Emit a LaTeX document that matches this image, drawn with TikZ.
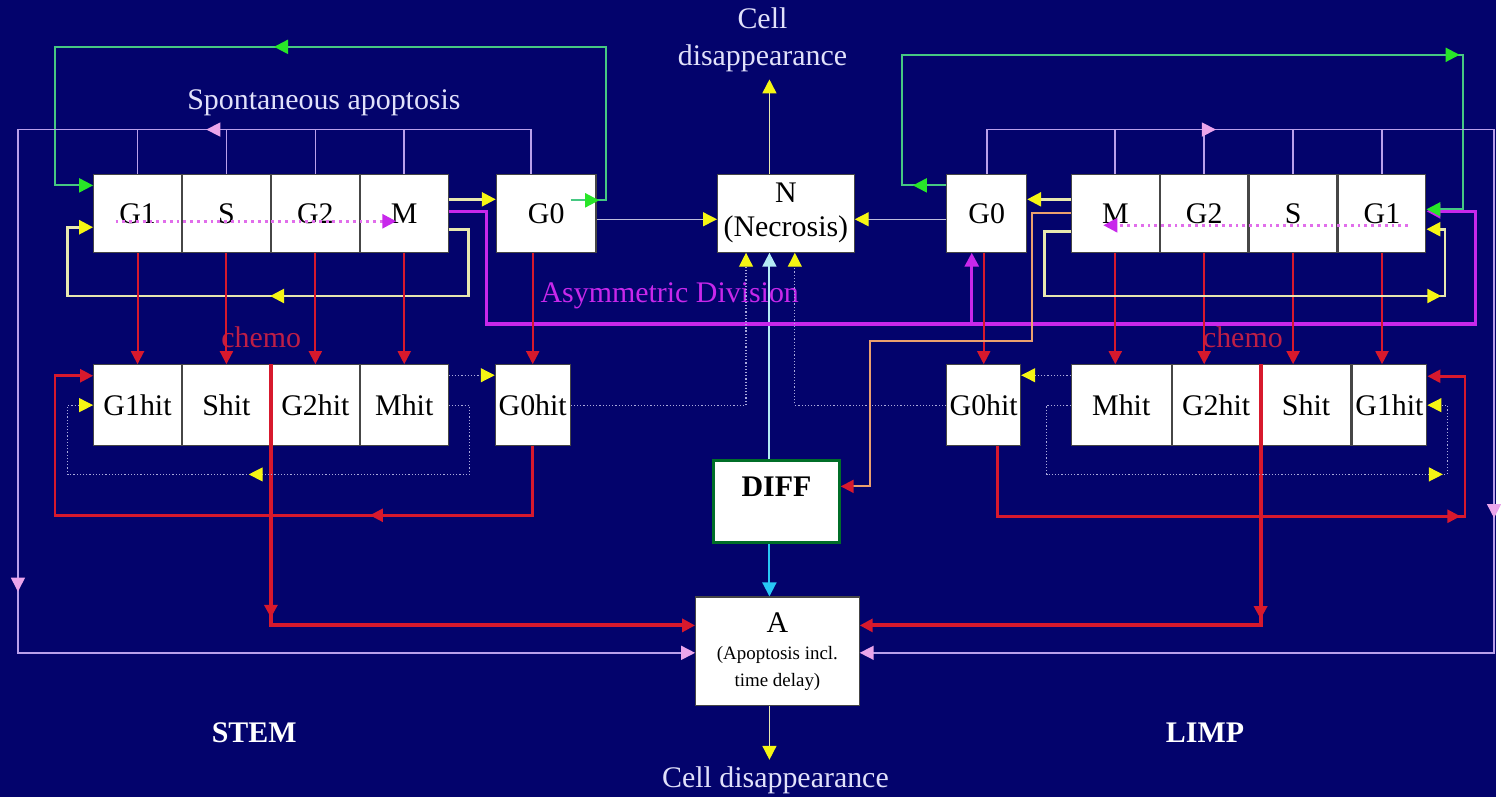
\documentclass[tikz,border=0pt]{standalone}
\usepackage{fontspec}
\setmainfont{Liberation Serif}
\usetikzlibrary{arrows.meta, positioning, decorations.markings}

\definecolor{navy}{RGB}{3,3,108}
\definecolor{boxline}{RGB}{70,70,70}
\definecolor{txtc}{RGB}{225,225,250}
\definecolor{pinkc}{RGB}{185,160,235}
\definecolor{piktip}{RGB}{235,165,235}
\definecolor{grnc}{RGB}{70,200,130}
\definecolor{grntip}{RGB}{40,230,40}
\definecolor{yelc}{RGB}{232,232,175}
\definecolor{yeltip}{RGB}{245,245,20}
\definecolor{redc}{RGB}{215,25,45}
\definecolor{chemoc}{RGB}{190,30,70}
\definecolor{magc}{RGB}{200,40,235}
\definecolor{magdotc}{RGB}{225,110,235}
\definecolor{orgc}{RGB}{235,160,110}
\definecolor{dotc}{RGB}{170,170,220}
\definecolor{thinc}{RGB}{190,190,220}
\definecolor{cyanc}{RGB}{40,200,245}
\definecolor{icec}{RGB}{180,235,245}
\definecolor{diffc}{RGB}{0,110,40}

\tikzset{
  tipY/.tip={Triangle[length=7pt,width=7pt,color=yeltip]},
  tipR/.tip={Triangle[length=6.5pt,width=6.5pt,color=redc]},
  tipG/.tip={Triangle[length=7pt,width=7pt,color=grntip]},
  tipP/.tip={Triangle[length=7pt,width=7pt,color=piktip]},
  tipM/.tip={Triangle[length=7pt,width=7pt,color=magc]},
  tipC/.tip={Triangle[length=7pt,width=7pt,color=cyanc]},
  tipI/.tip={Triangle[length=7pt,width=7pt,color=icec]},
  mk/.style 2 args={decoration={markings, mark=at position #1 with {\arrow{#2}}}, postaction={decorate}},
  mkk/.style n args={4}{decoration={markings, mark=at position #1 with {\arrow{#2}}, mark=at position #3 with {\arrow{#4}}}, postaction={decorate}},
}

\begin{document}
\begin{tikzpicture}[x=0.5pt, y=-0.5pt,
  cell/.style={rectangle, draw=boxline, line width=0.6pt, fill=white, minimum width=44pt, minimum height=39pt, inner sep=1pt, font=\fontsize{15}{18}\selectfont},
  hitcell/.style={cell, minimum height=40.5pt},
  lbl/.style={text=txtc, font=\fontsize{15}{19}\selectfont, align=center},
  pinkline/.style={draw=pinkc, line width=0.8pt},
  grnline/.style={draw=grnc, line width=1.1pt},
  yelline/.style={draw=yelc, line width=1.3pt},
  thinline/.style={draw=thinc, line width=0.7pt},
  redline/.style={draw=redc, line width=1pt},
  redthick/.style={draw=redc, line width=2pt},
  magline/.style={draw=magc, line width=1.6pt},
  magdot/.style={draw=magdotc, line width=1.4pt, dotted},
  dotline/.style={draw=dotc, line width=0.6pt, densely dotted},
  orgline/.style={draw=orgc, line width=1pt},
]
\fill[navy] (0,0) rectangle (1501,800);

% Labels
\node[lbl] (celltop) at (765,40) {Cell\\disappearance};
\node[lbl] (spont) at (325,103) {Spontaneous apoptosis};
\node[lbl, text=magc] (asym) at (672,297) {Asymmetric Division};
\node[lbl, text=chemoc] (chs) at (262,338) {chemo};
\node[lbl, text=chemoc] (chl) at (1247,338) {chemo};
\node[lbl, text=white, font=\bfseries\fontsize{15}{18}\selectfont] (stem) at (255,735) {STEM};
\node[lbl, text=white, font=\bfseries\fontsize{15}{18}\selectfont] (limp) at (1209,735) {LIMP};
\node[lbl] (celbot) at (778,783) {Cell disappearance};

% STEM compartments
\node[cell] (g1s) at (138,214) {G1};
\node[cell, right=0pt of g1s] (ss) {S};
\node[cell, right=0pt of ss] (g2s) {G2};
\node[cell, right=0pt of g2s] (ms) {M};
\node[cell, minimum width=50pt] (g0s) at (548,214) {G0};

\node[hitcell] (g1hs) at (138,406.5) {G1hit};
\node[hitcell, right=0pt of g1hs] (shs) {Shit};
\node[hitcell, right=0pt of shs] (g2hs) {G2hit};
\node[hitcell, right=0pt of g2hs] (mhs) {Mhit};
\node[hitcell, minimum width=37.5pt, inner sep=0pt] (g0hs) at (534.5,406.5) {G0hit};

% Central boxes
\node[cell, minimum width=68.5pt, align=center, font=\fontsize{15}{17}\selectfont] (nec) at (788.5,214) {N\\(Necrosis)};
\node[cell, draw=diffc, line width=1.5pt, minimum width=63pt, inner sep=3pt, text height=15pt, text depth=20pt, font=\bfseries\fontsize{15}{18}\selectfont] (diff) at (779,503.5) {DIFF};
\node[cell, minimum width=82pt, minimum height=54.5pt, align=center, font=\fontsize{15}{13.5}\selectfont] (apo) at (780,653.5)
  {A\\{\fontsize{9.5}{13.5}\selectfont(Apoptosis incl.}\\{\fontsize{9.5}{13.5}\selectfont time delay)}};

% LIMP compartments
\node[cell, minimum width=40pt] (g0l) at (990,214) {G0};
\node[cell] (ml) at (1119,214) {M};
\node[cell, right=0pt of ml] (g2l) {G2};
\node[cell, right=0pt of g2l] (sl) {S};
\node[cell, right=0pt of sl] (g1l) {G1};

\node[hitcell, minimum width=37pt, inner sep=0pt] (g0hl) at (987,406.5) {G0hit};
\node[hitcell, minimum width=50pt] (mhl) at (1125,406.5) {Mhit};
\node[hitcell, right=0pt of mhl] (g2hl) {G2hit};
\node[hitcell, minimum width=45pt, right=0pt of g2hl] (shl) {Shit};
\node[hitcell, minimum width=37.5pt, right=0pt of shl] (g1hl) {G1hit};

% Necrosis / differentiation / apoptosis axis
\coordinate (ax) at (772,0);
\draw[yelline, line width=0.8pt, -tipY] (nec.north -| ax) -- (celltop.south -| ax);
\draw[thinline, -tipY] ([yshift=-3pt]g0s.east) -- ([yshift=-3pt]nec.west);
\draw[thinline, -tipY] ([yshift=-3pt]g0l.west) -- ([yshift=-3pt]nec.east);
\draw[draw=icec, line width=1pt, -tipI] (diff.north -| ax) -- (nec.south -| ax);
\draw[draw=cyanc, line width=1pt, -tipC] (diff.south -| ax) -- (apo.north -| ax);
\draw[yelline, line width=0.8pt, -tipY] (apo.south -| ax) -- (celbot.north -| ax);

% STEM loops
\draw[grnline, -tipG, mkk={0.031}{tipG}{0.568}{tipG}] ([xshift=-13pt,yshift=6.5pt]g0s.east) -- (608,201) |- (55,47) |- ([yshift=14pt]g1s.west);
\coordinate (spl) at (18,130);
\foreach \c in {g1s,ss,g2s,ms} \draw[pinkline] (\c.north) -- (\c.north |- spl);
\draw[pinkline, -tipP, mkk={0.21}{tipP}{0.58}{tipP}] ([xshift=-7.5pt]g0s.north) |- (spl) |- ([yshift=-0.75pt]apo.west);
\draw[yelline, -tipY] ([yshift=7pt]ms.east) -- ([yshift=7pt]g0s.west);
\draw[yelline, -tipY, mk={0.49}{tipY}] ([yshift=-8pt]ms.east) -| (470,297) -| (68,228) -- ([yshift=-7pt]g1s.west);
\draw[magdot, -tipM] ([xshift=-11pt,yshift=-4pt]g1s.center) -- ([xshift=-4pt,yshift=-4pt]ms.center);

% Asymmetric division
\coordinate (asyr) at (975,325);
\draw[magline, -tipM] ([yshift=1pt]ms.east) -| (488,325) -| (1480,212) -- ([yshift=1pt]g1l.east);
\draw[magline, -tipM] (asyr) -- (asyr |- g0l.south);

% chemo hits
\foreach \a/\b in {g1s/g1hs, ss/shs, g2s/g2hs, ms/mhs, ml/mhl, g2l/g2hl, sl/shl, g1l/g1hl}
  \draw[redline, -tipR] (\a.south) -- (\a.south |- \b.north);
\draw[redline, -tipR] (g0hs.north |- g0s.south) -- (g0hs.north);
\draw[redline, -tipR] (g0hl.north |- g0l.south) -- (g0hl.north);
\draw[redthick, -tipR, mk={0.37}{tipR}] (g2hs.north west) |- ([yshift=13pt]apo.west);
\draw[redthick, -tipR, mk={0.385}{tipR}] (shl.north west) |- ([yshift=13pt]apo.east);
\draw[redline, line width=1.3pt, -tipR, mk={0.32}{tipR}] (g0hs.south) |- (55,517) |- ([yshift=14.75pt]g1hs.west);
\draw[redline, line width=1.3pt, -tipR, mk={0.745}{tipR}] ([xshift=7pt]g0hl.south) |- (1470,518) |- ([yshift=14.5pt]g1hl.east);

% hit compartments
\draw[dotline, -tipY] ([yshift=15pt]mhs.east) -- ([yshift=15pt]g0hs.west);
\draw[dotline, -tipY, mk={0.53}{tipY}] (mhs.east) -| (471,476) -| (68,406.5) -- (g1hs.west);
\draw[dotline, -tipY] ([yshift=15pt]mhl.west) -- ([yshift=15pt]g0hl.east);
\draw[dotline, -tipY, mk={0.84}{tipY}] (mhl.west) -| (1050,476) -| (1452,406.5) -- (g1hl.east);
\draw[dotline, -tipY] (g0hs.east) -| ([xshift=-20pt]nec.south);
\draw[dotline, -tipY] (g0hl.west) -| ([xshift=4.5pt]nec.south);

% LIMP loops
\draw[grnline, -tipG, mkk={0.036}{tipG}{0.79}{tipG}] ([yshift=14pt]g0l.west) -- (905,186) |- (1468,55) |- ([yshift=2pt]g1l.east);
\coordinate (spr) at (1499,130);
\foreach \c in {ml,g2l,sl,g1l} \draw[pinkline] (\c.north) -- (\c.north |- spr);
\draw[pinkline, -tipP, mkk={0.16}{tipP}{0.55}{tipP}] (g0l.north) |- (spr) |- ([yshift=-0.75pt]apo.east);
\draw[yelline, -tipY] ([yshift=7pt]ml.west) -- ([yshift=7pt]g0l.east);
\draw[yelline, -tipY, mk={0.845}{tipY}] ([yshift=-9pt]ml.west) -| (1048,297) -| (1450,230) -- ([yshift=-8pt]g1l.east);
\draw[orgline, -tipR] (ml.west) -| (1035,342) -| (873,488) -- ([yshift=7.75pt]diff.east);
\draw[magdot, -tipM] ([xshift=13pt,yshift=-6pt]g1l.center) -- ([xshift=-6pt,yshift=-6pt]ml.center);

\end{tikzpicture}
\end{document}
